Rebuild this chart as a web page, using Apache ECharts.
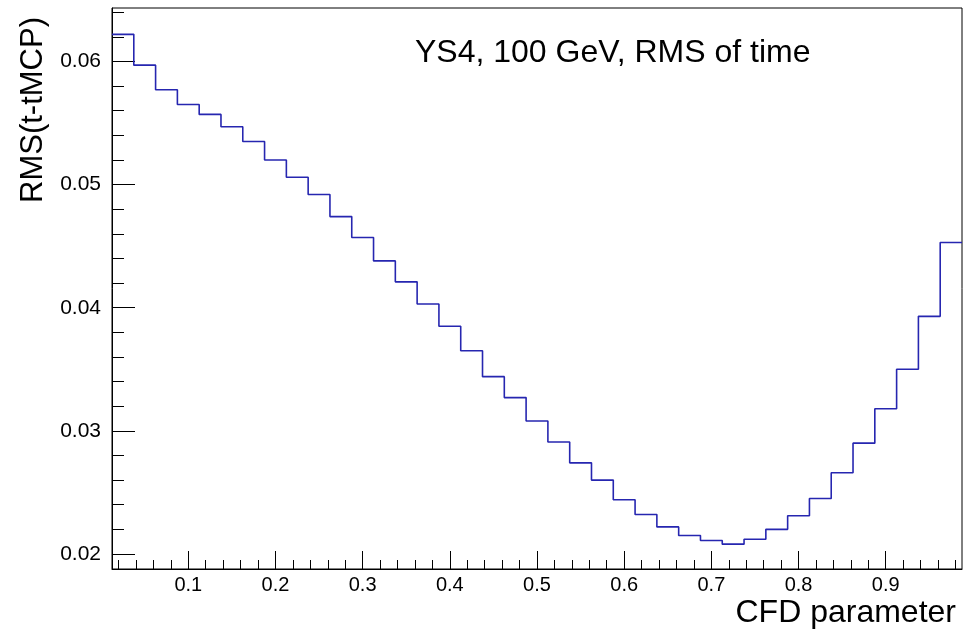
<!DOCTYPE html>
<html>
<head>
<meta charset="utf-8">
<script src="https://cdn.jsdelivr.net/npm/echarts@6/dist/echarts.min.js"></script>
<style>
  html, body { margin: 0; padding: 0; background: #fff; }
  #chart { width: 973px; height: 643px; }
</style>
</head>
<body>
<div id="chart"></div>
<script>
// histogram binning (CFD parameter)
const binLow = 0.0125;
const binWidth = 0.025;
// RMS(t-tMCP) per bin
const rmsValues = [
  0.0622, 0.0597, 0.0577, 0.0565, 0.0557, 0.0547, 0.0535, 0.0520, 0.0506, 0.0492,
  0.0474, 0.0457, 0.0438, 0.0421, 0.0403, 0.0385, 0.0365, 0.0344, 0.0327, 0.0308,
  0.0291, 0.0274, 0.0260, 0.0244, 0.0232, 0.0222, 0.0215, 0.0211, 0.0208, 0.0212,
  0.0220, 0.0231, 0.0245, 0.0266, 0.0290, 0.0318, 0.0350, 0.0393, 0.0453
];
const xTicks = [0.1, 0.2, 0.3, 0.4, 0.5, 0.6, 0.7, 0.8, 0.9];
const xMinorTicks = [0.02, 0.04, 0.06, 0.08, 0.12, 0.14, 0.16, 0.18, 0.22, 0.24, 0.26, 0.28,
  0.32, 0.34, 0.36, 0.38, 0.42, 0.44, 0.46, 0.48, 0.52, 0.54, 0.56, 0.58,
  0.62, 0.64, 0.66, 0.68, 0.72, 0.74, 0.76, 0.78, 0.82, 0.84, 0.86, 0.88,
  0.92, 0.94, 0.96, 0.98];
const yTicks = [0.02, 0.03, 0.04, 0.05, 0.06];
const yMinorTicks = [0.022, 0.024, 0.026, 0.028, 0.032, 0.034, 0.036, 0.038,
  0.042, 0.044, 0.046, 0.048, 0.052, 0.054, 0.056, 0.058, 0.062, 0.064];
const xMin = 0.0125, xMax = 0.9875;
const yMin = 0.01878, yMax = 0.06434;

const FONT = 'Liberation Sans';

// step line points: left edge of every bin, plus the right edge of the last one
const stepData = rmsValues.map((v, i) => [binLow + i * binWidth, v]);
stepData.push([binLow + rmsValues.length * binWidth, rmsValues[rmsValues.length - 1]]);

const chart = echarts.init(document.getElementById('chart'));

const option = {
  animation: false,
  backgroundColor: '#fff',
  title: [
    {
      text: 'YS4, 100 GeV, RMS of time',
      left: 410, top: 32,
      textStyle: { fontFamily: FONT, fontSize: 32, fontWeight: 'normal', color: '#000' }
    },
    {
      text: 'CFD parameter',
      right: 12, top: 592,
      textStyle: { fontFamily: FONT, fontSize: 32, fontWeight: 'normal', color: '#000' }
    }
  ],
  graphic: [
    {
      type: 'text',
      x: 33, y: 17,
      rotation: Math.PI / 2,
      style: {
        text: 'RMS(t-tMCP)',
        fontFamily: FONT, fontSize: 31, fill: '#000',
        textAlign: 'right', textVerticalAlign: 'middle'
      }
    }
  ],
  grid: {
    left: 112, top: 8, width: 850, height: 561,
    show: true, borderColor: '#000', borderWidth: 1, backgroundColor: 'transparent'
  },
  xAxis: [
    {
      type: 'value', min: xMin, max: xMax,
      axisLine: { show: true, lineStyle: { color: '#000', width: 1 } },
      axisTick: { show: true, inside: true, length: 18, customValues: xTicks, lineStyle: { color: '#000' } },
      axisLabel: {
        customValues: xTicks, margin: 6,
        fontFamily: FONT, fontSize: 20, color: '#000',
        formatter: v => v.toFixed(1)
      },
      splitLine: { show: false }
    },
    {
      type: 'value', min: xMin, max: xMax, position: 'bottom',
      axisLine: { show: false },
      axisTick: { show: true, inside: true, length: 9, customValues: xMinorTicks, lineStyle: { color: '#000' } },
      axisLabel: { show: false },
      splitLine: { show: false }
    }
  ],
  yAxis: [
    {
      type: 'value', min: yMin, max: yMax,
      axisLine: { show: true, lineStyle: { color: '#000', width: 1 } },
      axisTick: { show: true, inside: true, length: 23, customValues: yTicks, lineStyle: { color: '#000' } },
      axisLabel: {
        customValues: yTicks, margin: 11,
        fontFamily: FONT, fontSize: 21, color: '#000',
        formatter: v => v.toFixed(2)
      },
      splitLine: { show: false }
    },
    {
      type: 'value', min: yMin, max: yMax, position: 'left',
      axisLine: { show: false },
      axisTick: { show: true, inside: true, length: 12, customValues: yMinorTicks, lineStyle: { color: '#000' } },
      axisLabel: { show: false },
      splitLine: { show: false }
    }
  ],
  series: [
    {
      type: 'line',
      step: 'end',
      data: stepData,
      xAxisIndex: 0,
      yAxisIndex: 0,
      symbol: 'none',
      lineStyle: { color: '#2626b0', width: 1.6 },
      clip: true
    }
  ]
};

chart.setOption(option);
</script>
</body>
</html>
